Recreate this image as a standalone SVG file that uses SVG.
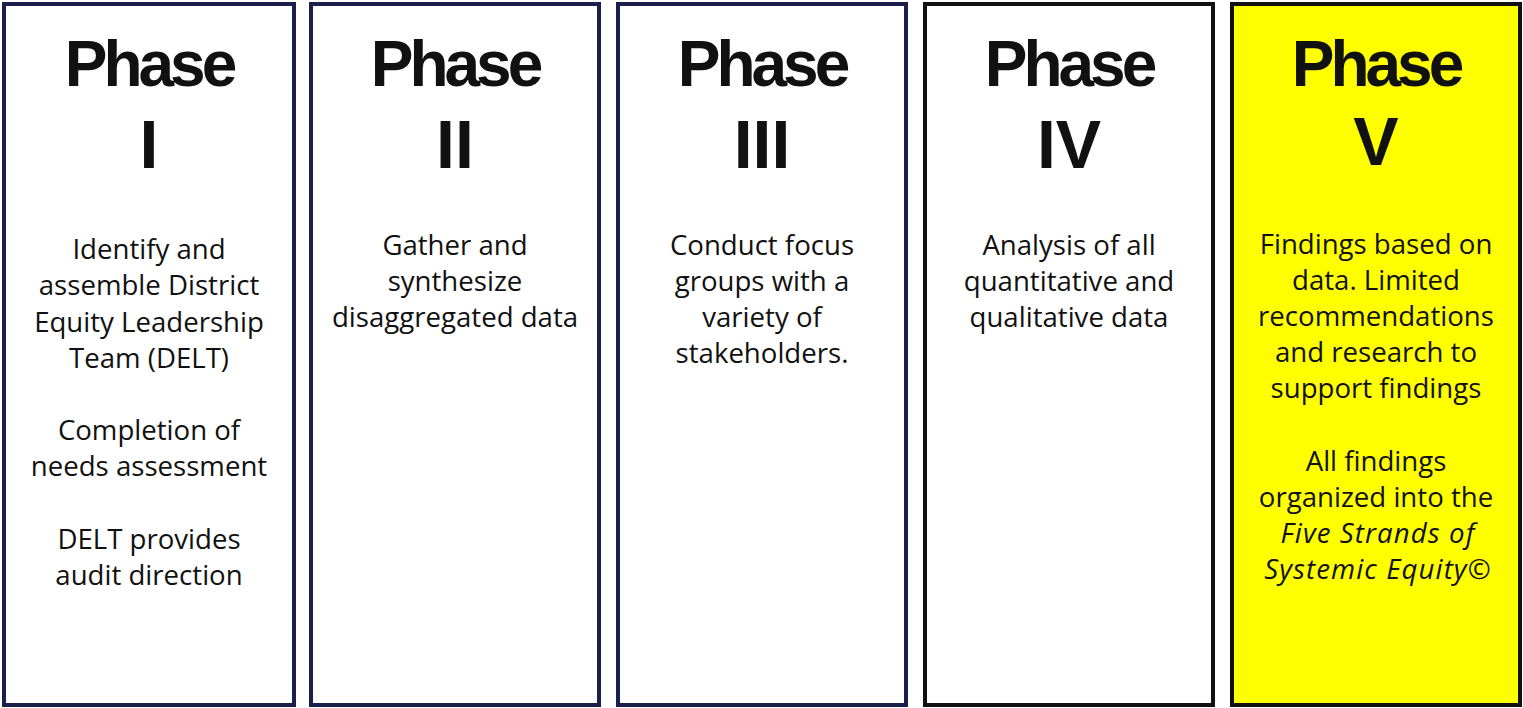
<svg xmlns="http://www.w3.org/2000/svg" width="1523" height="708" viewBox="0 0 1523 708">
  <style>
    .box { fill: #ffffff; stroke: #1b1f4b; stroke-width: 4; }
    .box.dark { stroke: #111111; }
    .box.hl { fill: #ffff00; stroke: #111111; }
    .title { font-family: "Liberation Sans", Arial, sans-serif; font-weight: bold; font-size: 64px; letter-spacing: -4px; fill: #111111; text-anchor: middle; }
    .num { font-family: "Liberation Sans", Arial, sans-serif; font-weight: bold; font-size: 68px; fill: #111111; text-anchor: middle; }
    .body { font-family: "Open Sans", "Liberation Sans", sans-serif; font-size: 27.6px; fill: #111111; text-anchor: middle; }
    .it { font-style: italic; letter-spacing: 1.1px; }
  </style>

  <!-- Phase I -->
  <g id="phase-1">
    <rect class="box" x="4" y="4" width="290" height="701"/>
    <text class="title" x="149" y="86">Phase</text>
    <text class="num" x="149" y="168">I</text>
    <text class="body" x="149" y="259">Identify and</text>
    <text class="body" x="149" y="295">assemble District</text>
    <text class="body" x="149" y="332">Equity Leadership</text>
    <text class="body" x="149" y="368">Team (DELT)</text>
    <text class="body" x="149" y="440">Completion of</text>
    <text class="body" x="149" y="476">needs assessment</text>
    <text class="body" x="149" y="549">DELT provides</text>
    <text class="body" x="149" y="585">audit direction</text>
  </g>

  <!-- Phase II -->
  <g id="phase-2">
    <rect class="box" x="311" y="4" width="288" height="701"/>
    <text class="title" x="455" y="86">Phase</text>
    <text class="num" x="455" y="168">II</text>
    <text class="body" x="455" y="255">Gather and</text>
    <text class="body" x="455" y="291">synthesize</text>
    <text class="body" x="455" y="327">disaggregated data</text>
  </g>

  <!-- Phase III -->
  <g id="phase-3">
    <rect class="box" x="618" y="4" width="288" height="701"/>
    <text class="title" x="762" y="86">Phase</text>
    <text class="num" x="762" y="168">III</text>
    <text class="body" x="762" y="255">Conduct focus</text>
    <text class="body" x="762" y="291">groups with a</text>
    <text class="body" x="762" y="327">variety of</text>
    <text class="body" x="762" y="363">stakeholders.</text>
  </g>

  <!-- Phase IV -->
  <g id="phase-4">
    <rect class="box dark" x="925" y="4" width="288" height="701"/>
    <text class="title" x="1069" y="86">Phase</text>
    <text class="num" x="1069" y="168">IV</text>
    <text class="body" x="1069" y="255">Analysis of all</text>
    <text class="body" x="1069" y="291">quantitative and</text>
    <text class="body" x="1069" y="327">qualitative data</text>
  </g>

  <!-- Phase V (highlighted) -->
  <g id="phase-5">
    <rect class="box hl" x="1232" y="4" width="288" height="701"/>
    <text class="title" x="1376" y="86">Phase</text>
    <text class="num" x="1376" y="165">V</text>
    <text class="body" x="1376" y="254">Findings based on</text>
    <text class="body" x="1376" y="290">data. Limited</text>
    <text class="body" x="1376" y="326">recommendations</text>
    <text class="body" x="1376" y="362">and research to</text>
    <text class="body" x="1376" y="398">support findings</text>
    <text class="body" x="1376" y="471">All findings</text>
    <text class="body" x="1376" y="507">organized into the</text>
    <text class="body it" x="1378" y="543">Five Strands of</text>
    <text class="body it" x="1378" y="579">Systemic Equity©</text>
  </g>

  <!-- no connectors between the phase columns -->
  <g id="connectors"/>
</svg>
